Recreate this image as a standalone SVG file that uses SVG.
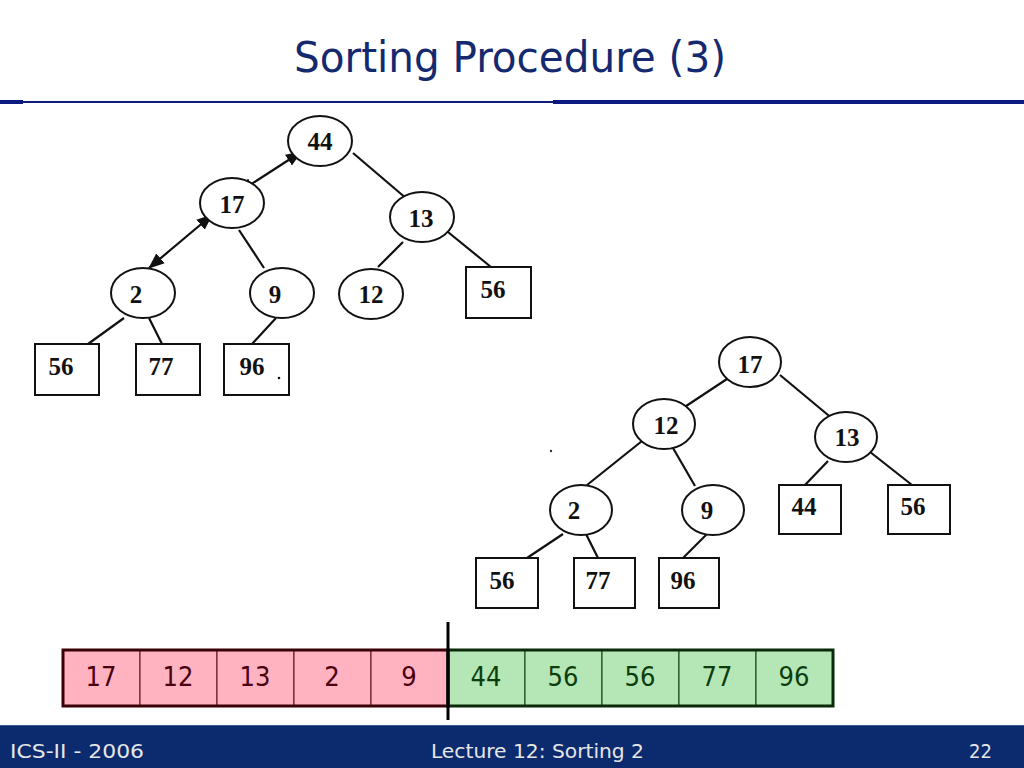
<svg xmlns="http://www.w3.org/2000/svg" width="1024" height="768" viewBox="0 0 1024 768">
<defs>
<style>
.nd{fill:#fff;stroke:#111;stroke-width:2}
.lb{font-family:"Liberation Serif","Times New Roman",serif;font-weight:bold;font-size:25px;fill:#111;text-anchor:middle}
.ed{stroke:#111;stroke-width:2.2;fill:none}
.pk{fill:#FFB3C1;stroke:#5a0a14;stroke-width:1}
.gr{fill:#B5E6B5;stroke:#0c3a0c;stroke-width:1}
.at{font-family:"DejaVu Sans Condensed","DejaVu Sans",sans-serif;font-size:27px;text-anchor:middle}
.ft{font-family:"DejaVu Sans Condensed","DejaVu Sans",sans-serif;font-size:20px;fill:#e6e6e6}
</style>
<marker id="ah" viewBox="0 0 16 14" refX="15" refY="7" markerUnits="userSpaceOnUse" markerWidth="16" markerHeight="14" orient="auto-start-reverse">
<path d="M0,0.5 L16,7 L0,13.5 z" fill="#111"/>
</marker>
</defs>
<rect width="1024" height="768" fill="#fff"/>

<!-- title -->
<text x="510" y="72" font-family="DejaVu Sans Condensed,DejaVu Sans,sans-serif" font-size="43" fill="#15296e" text-anchor="middle" textLength="432" lengthAdjust="spacingAndGlyphs">Sorting Procedure (3)</text>
<rect x="0" y="100" width="23" height="4" fill="#0d1a80"/>
<rect x="23" y="101" width="530" height="2" fill="#0d1a80"/>
<rect x="553" y="100" width="471" height="4" fill="#0d1a80"/>

<!-- connectors -->
<g id="connectors">
<line class="ed" x1="353" y1="153" x2="414" y2="205"/>
<line class="ed" x1="301" y1="152" x2="239" y2="192" marker-start="url(#ah)" marker-end="url(#ah)"/>
<line class="ed" x1="212" y1="215" x2="149" y2="268" marker-start="url(#ah)" marker-end="url(#ah)"/>
<line class="ed" x1="239" y1="230" x2="264" y2="268"/>
<line class="ed" x1="403" y1="242" x2="378" y2="267"/>
<line class="ed" x1="443" y1="228" x2="491" y2="267"/>
<line class="ed" x1="124" y1="318" x2="88" y2="344"/>
<line class="ed" x1="149" y1="318" x2="162" y2="344"/>
<line class="ed" x1="276" y1="318" x2="252" y2="344"/>

<line class="ed" x1="730" y1="377" x2="671" y2="416"/>
<line class="ed" x1="780" y1="375" x2="840" y2="425"/>
<line class="ed" x1="647" y1="437" x2="587" y2="485"/>
<line class="ed" x1="673" y1="448" x2="695" y2="486"/>
<line class="ed" x1="828" y1="461" x2="805" y2="485"/>
<line class="ed" x1="865" y1="448" x2="912" y2="485"/>
<line class="ed" x1="563" y1="534" x2="527" y2="558"/>
<line class="ed" x1="586" y1="534" x2="598" y2="558"/>
<line class="ed" x1="707" y1="534" x2="683" y2="558"/>
</g>

<!-- top tree -->
<g id="t1-44"><ellipse class="nd" cx="320" cy="141" rx="32" ry="25"/><text class="lb" x="320" y="150">44</text></g>
<g id="t1-17"><ellipse class="nd" cx="232" cy="203" rx="32" ry="25"/><text class="lb" x="232" y="213">17</text></g>
<g id="t1-13"><ellipse class="nd" cx="422" cy="217" rx="32" ry="25"/><text class="lb" x="421" y="227">13</text></g>
<g id="t1-2"><ellipse class="nd" cx="143" cy="293" rx="32" ry="25"/><text class="lb" x="136" y="303">2</text></g>
<g id="t1-9"><ellipse class="nd" cx="282" cy="293" rx="32" ry="25"/><text class="lb" x="275" y="303">9</text></g>
<g id="t1-12"><ellipse class="nd" cx="371" cy="294" rx="32" ry="25"/><text class="lb" x="371" y="303">12</text></g>
<g id="t1-56r"><rect class="nd" x="466" y="267" width="65" height="51"/><text class="lb" x="493" y="298">56</text></g>
<g id="t1-56"><rect class="nd" x="35" y="344" width="64" height="51"/><text class="lb" x="61" y="375">56</text></g>
<g id="t1-77"><rect class="nd" x="136" y="344" width="64" height="51"/><text class="lb" x="161" y="375">77</text></g>
<g id="t1-96"><rect class="nd" x="224" y="344" width="65" height="51"/><text class="lb" x="252" y="375">96</text><circle cx="279" cy="378" r="1.3" fill="#111"/></g>

<!-- bottom tree -->
<g id="t2-17"><ellipse class="nd" cx="750" cy="362" rx="31" ry="25"/><text class="lb" x="750" y="373">17</text></g>
<g id="t2-12"><ellipse class="nd" cx="664" cy="424" rx="31" ry="25"/><text class="lb" x="666" y="434">12</text></g>
<g id="t2-13"><ellipse class="nd" cx="846" cy="437" rx="31" ry="25"/><text class="lb" x="847" y="446">13</text></g>
<g id="t2-2"><ellipse class="nd" cx="581" cy="510" rx="31" ry="25"/><text class="lb" x="574" y="519">2</text></g>
<g id="t2-9"><ellipse class="nd" cx="713" cy="510" rx="31" ry="25"/><text class="lb" x="707" y="519">9</text></g>
<g id="t2-44"><rect class="nd" x="779" y="485" width="62" height="49"/><text class="lb" x="804" y="515">44</text></g>
<g id="t2-56r"><rect class="nd" x="888" y="485" width="62" height="49"/><text class="lb" x="913" y="515">56</text></g>
<g id="t2-56"><rect class="nd" x="476" y="558" width="62" height="50"/><text class="lb" x="502" y="589">56</text></g>
<g id="t2-77"><rect class="nd" x="574" y="558" width="61" height="50"/><text class="lb" x="598" y="589">77</text></g>
<g id="t2-96"><rect class="nd" x="659" y="558" width="60" height="50"/><text class="lb" x="683" y="589">96</text></g>
<circle cx="551" cy="451" r="1.2" fill="#333"/>

<!-- array -->
<g id="array">
<rect class="pk" x="63" y="650" width="77" height="56"/>
<rect class="pk" x="140" y="650" width="77" height="56"/>
<rect class="pk" x="217" y="650" width="77" height="56"/>
<rect class="pk" x="294" y="650" width="77" height="56"/>
<rect class="pk" x="371" y="650" width="77" height="56"/>
<rect class="gr" x="448" y="650" width="77" height="56"/>
<rect class="gr" x="525" y="650" width="77" height="56"/>
<rect class="gr" x="602" y="650" width="77" height="56"/>
<rect class="gr" x="679" y="650" width="77" height="56"/>
<rect class="gr" x="756" y="650" width="77" height="56"/>
<rect x="63" y="650" width="385" height="56" fill="none" stroke="#3a0008" stroke-width="3"/>
<rect x="448" y="650" width="385" height="56" fill="none" stroke="#0a2a0a" stroke-width="3"/>
<g class="at" fill="#4a0010">
<text x="101" y="686">17</text><text x="178" y="686">12</text><text x="255" y="686">13</text><text x="332" y="686">2</text><text x="409" y="686">9</text>
</g>
<g class="at" fill="#0d3d0d">
<text x="486" y="686">44</text><text x="563" y="686">56</text><text x="640" y="686">56</text><text x="717" y="686">77</text><text x="794" y="686">96</text>
</g>
<line x1="448" y1="622" x2="448" y2="720" stroke="#000" stroke-width="3"/>
</g>

<!-- footer -->
<rect x="0" y="725" width="1024" height="43" fill="#0b2b6e"/>
<line x1="0" y1="725.5" x2="1024" y2="725.5" stroke="#3a5a9a" stroke-width="1"/>
<text class="ft" x="10" y="758" textLength="134" lengthAdjust="spacingAndGlyphs">ICS-II - 2006</text>
<text class="ft" x="431" y="758" textLength="213" lengthAdjust="spacingAndGlyphs">Lecture 12: Sorting 2</text>
<text class="ft" x="992" y="758" text-anchor="end">22</text>
</svg>
